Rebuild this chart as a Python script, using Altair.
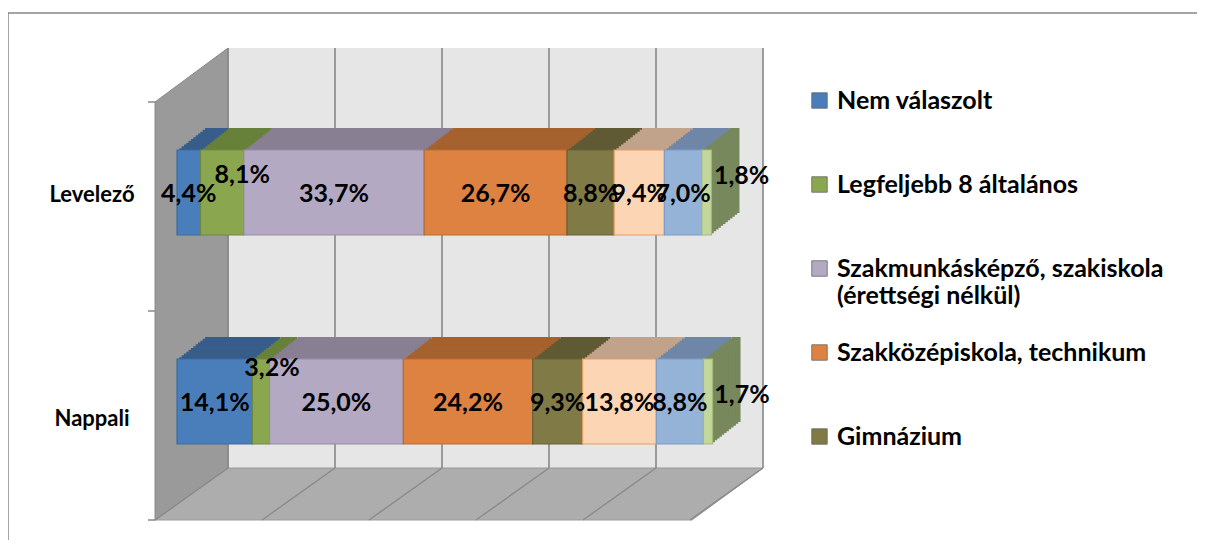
import altair as alt
import pandas as pd

# ---------------- data ----------------
categories = ["Levelező", "Nappali"]
series = [
    "Nem válaszolt",
    "Legfeljebb 8 általános",
    "Szakmunkásképző, szakiskola (érettségi nélkül)",
    "Szakközépiskola, technikum",
    "Gimnázium",
    "Adatsor 6",
    "Adatsor 7",
    "Adatsor 8",
]
levelezo_values = [4.4, 8.1, 33.7, 26.7, 8.8, 9.4, 7.0, 1.8]
nappali_values = [14.1, 3.2, 25.0, 24.2, 9.3, 13.8, 8.8, 1.7]
legend_series = series[:5]
gridline_values = [0, 20, 40, 60, 80, 100]

# ---------------- styles ----------------
front_colors = ["#4a7ebb", "#8aa64f", "#b3a9c3", "#dd8241", "#807a47", "#fcd5b5", "#95b3d7", "#c3d69b"]
top_colors = ["#385d8a", "#67803a", "#897f93", "#a5622f", "#5f5a34", "#c1a28a", "#6f86a7", "#77885c"]
edge_colors = ["#3d6aa0", "#71893f", "#958ca6", "#b86c33", "#66613a", "#e39b64", "#7d9cc8", "#a3bb7a"]

W, H = 608, 472          # plot area
PX_PER = 5.35            # pixels per percent
X0 = 22                  # bar plane 0% position inside plot
DEPTH_X, DEPTH_Y = 73, 52
BACK_DX = 51             # bar plane -> back wall
FRONT_DX = -22           # bar plane -> front floor edge
BAR_H = 85
BAR_DX, BAR_DY, NSTEP = 28, 22, 12

rows = []
for ci, (cat, vals) in enumerate(zip(categories, [levelezo_values, nappali_values])):
    for si, (s, v) in enumerate(zip(series, vals)):
        rows.append({
            "category": cat, "series": s, "order": si, "value": v,
            "label": f"{v:.1f}%".replace(".", ","),
            "top": top_colors[si], "edge": edge_colors[si],
        })
df = pd.DataFrame(rows)

xscale = alt.Scale(domain=[-X0 / PX_PER, (W - X0) / PX_PER], nice=False, zero=False)
yscale = alt.Scale(domain=categories, range=[40, 458], paddingInner=0, paddingOuter=0)

layers = []

# ---------------- decoration: walls, floor, grid ----------------
back_wall = alt.Chart(pd.DataFrame({"a": [0]})).mark_rect(color="#e6e6e6").encode(
    x=alt.value(DEPTH_X), x2=alt.value(W), y=alt.value(0), y2=alt.value(H - DEPTH_Y)
)
layers.append(back_wall)

left_wall_df = pd.DataFrame({
    "px": [0, DEPTH_X],
    "py": [H - 418, 0],
    "py2": [H, H - DEPTH_Y],
})
left_wall = alt.Chart(left_wall_df).mark_area(
    color="#9a9a9a", stroke="#8a8a8a", strokeWidth=1, orient="vertical"
).encode(
    x=alt.X("px:Q", scale=None, axis=None),
    y=alt.Y("py:Q", scale=None, axis=None, stack=None),
    y2="py2:Q",
)
layers.append(left_wall)

floor_df = pd.DataFrame({
    "py": [H - DEPTH_Y, H],
    "px": [DEPTH_X, 0],
    "px2": [W, W - 71],
})
floor = alt.Chart(floor_df).mark_area(
    color="#adadad", stroke="#9a9a9a", strokeWidth=1, orient="horizontal"
).encode(
    y=alt.Y("py:Q", scale=None, axis=None),
    x=alt.X("px:Q", scale=None, axis=None, stack=None),
    x2="px2:Q",
)
layers.append(floor)

grid_df = pd.DataFrame({"g": gridline_values})
grid_back = alt.Chart(grid_df).mark_rule(
    color="#878787", strokeWidth=1.6, xOffset=BACK_DX, x2Offset=BACK_DX
).encode(
    x=alt.X("g:Q", scale=xscale, axis=None),
    y=alt.value(0), y2=alt.value(H - DEPTH_Y),
)
grid_floor = alt.Chart(grid_df).mark_rule(
    color="#8a8a8a", strokeWidth=1.4, xOffset=BACK_DX, x2Offset=FRONT_DX
).encode(
    x=alt.X("g:Q", scale=xscale, axis=None), x2="g:Q",
    y=alt.value(H - DEPTH_Y), y2=alt.value(H),
)
layers += [grid_back, grid_floor]

tick_df = pd.DataFrame({"t": [H - 418, H - 209, H]})
ticks = alt.Chart(tick_df).mark_rule(color="#8a8a8a", strokeWidth=1.5).encode(
    x=alt.value(-7), x2=alt.value(0), y=alt.Y("t:Q", scale=None, axis=None)
)
layers.append(ticks)

# outer frame (top and left edges)
frame_top = alt.Chart(pd.DataFrame({"a": [0]})).mark_rule(color="#868686", strokeWidth=1.5).encode(
    x=alt.value(-147), x2=alt.value(1042), y=alt.value(-35)
)
frame_left = alt.Chart(pd.DataFrame({"a": [0]})).mark_rule(color="#868686", strokeWidth=1.5).encode(
    x=alt.value(-147), y=alt.value(-35), y2=alt.value(492)
)
layers += [frame_top, frame_left]

# ---------------- 3D bars: back copies (farthest first) ----------------
base = alt.Chart(df)
for k in range(NSTEP, 0, -1):
    ox = k * BAR_DX / NSTEP
    oy = -k * BAR_DY / NSTEP
    layers.append(
        base.mark_bar(height=BAR_H, xOffset=ox, x2Offset=ox, yOffset=oy, y2Offset=oy).encode(
            x=alt.X("value:Q", stack="zero", scale=xscale, axis=None),
            y=alt.Y("category:N", scale=yscale, axis=None),
            fill=alt.Fill("top:N", scale=None),
            detail="series:N",
            order=alt.Order("order:Q", sort="ascending"),
        )
    )

front = base.mark_bar(height=BAR_H, strokeWidth=1.2).encode(
    x=alt.X("value:Q", stack="zero", scale=xscale, axis=None),
    y=alt.Y("category:N", scale=yscale, axis=None),
    fill=alt.Fill(
        "series:N",
        scale=alt.Scale(domain=series, range=front_colors),
        legend=alt.Legend(
            values=legend_series, title=None, orient="none", legendX=652, legendY=40,
            direction="vertical", symbolType="square", symbolSize=240,
            symbolStrokeWidth=0.8, symbolStrokeColor="#666666",
            labelFont="Lato", labelFontSize=25, labelFontWeight="bold", labelColor="#000000",
            labelLimit=600, rowPadding=31, labelOffset=5, padding=0, gridAlign="all",
            labelExpr="datum.label == 'Szakmunkásképző, szakiskola (érettségi nélkül)' ? ['Szakmunkásképző, szakiskola', '(érettségi nélkül)'] : datum.label",
        ),
    ),
    stroke=alt.Stroke("edge:N", scale=None),
    order=alt.Order("order:Q", sort="ascending"),
)
layers.append(front)

# ---------------- data labels ----------------
lab = base.transform_stack(
    stack="value", groupby=["category"], sort=[alt.SortField("order")], as_=["x0", "x1"]
).transform_calculate(mid="(datum.x0 + datum.x1) / 2")

special = {
    ("Levelező", 1): (20, -18),
    ("Levelező", 7): (35, -17),
    ("Nappali", 1): (11, -34),
    ("Nappali", 7): (34, -7),
}
cond_special = " || ".join(
    f"(datum.category == '{c}' && datum.order == {o})" for (c, o) in special
)

def text_layer(data, dx, dy):
    return data.mark_text(
        font="Lato", fontSize=25, fontWeight="bold", color="#000000", dx=dx, dy=dy
    ).encode(
        x=alt.X("mid:Q", scale=xscale, axis=None),
        y=alt.Y("category:N", scale=yscale, axis=None),
        text="label:N",
    )

layers.append(text_layer(lab.transform_filter(f"!({cond_special})"), 0, 1))
for (c, o), (dx, dy) in special.items():
    layers.append(text_layer(lab.transform_filter(f"datum.category == '{c}' && datum.order == {o}"), dx, dy))

# ---------------- category labels ----------------
cat_df = pd.DataFrame({"category": categories})
cat_dy = {"Levelező": 2, "Nappali": 17}
for c in categories:
    layers.append(
        alt.Chart(cat_df).transform_filter(f"datum.category == '{c}'").mark_text(
            font="Lato", fontSize=22, fontWeight="bold", color="#000000", align="center", dy=cat_dy[c]
        ).encode(
            x=alt.value(-63),
            y=alt.Y("category:N", scale=yscale, axis=None),
            text="category:N",
        )
    )

chart = alt.layer(*layers).properties(
    width=W, height=H,
    padding={"left": 147, "top": 40, "right": 434, "bottom": 20},
    autosize=alt.AutoSizeParams(type="none"),
).configure_view(stroke=None)

chart.save("out.html", embed_options={"renderer": "svg", "actions": False})
